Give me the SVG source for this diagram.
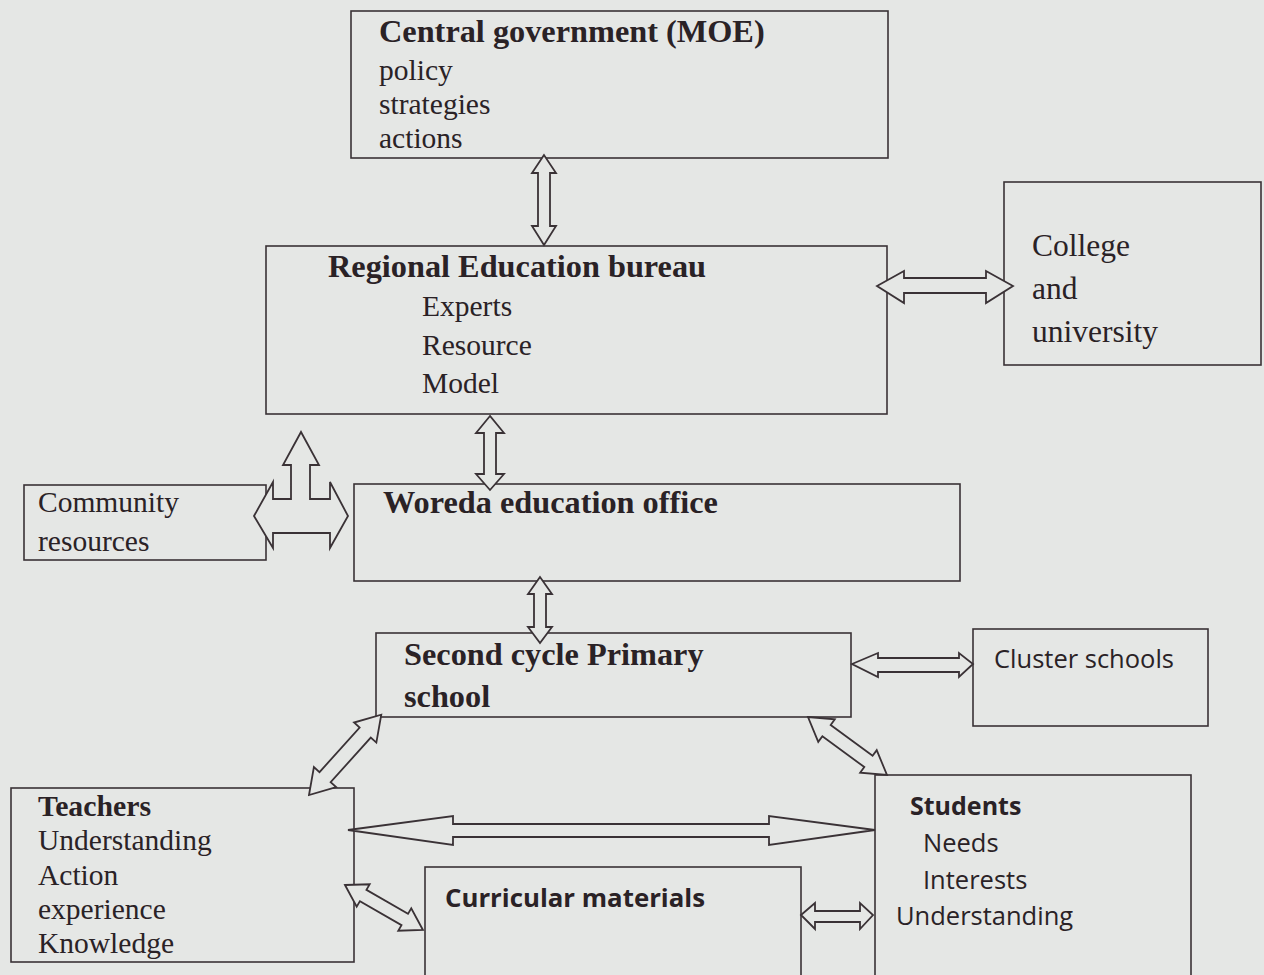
<svg xmlns="http://www.w3.org/2000/svg" width="1264" height="975" viewBox="0 0 1264 975">
<style>
.box{fill:none;stroke:#3a3236;stroke-width:1.6}
.arr{fill:#e5e7e5;stroke:#3a3236;stroke-width:1.8;stroke-linejoin:miter}
.sb{font-family:"Liberation Serif",serif;font-weight:bold;font-size:32.3px;fill:#2a2226}
.sr{font-family:"Liberation Serif",serif;font-size:29.5px;fill:#2a2226}
.ab{font-family:"Open Sans",sans-serif;font-weight:bold;font-size:25px;fill:#2a2226}
.ar{font-family:"Open Sans",sans-serif;font-size:25.5px;fill:#2a2226}
</style>
<rect width="1264" height="975" fill="#e5e7e5"/>

<g id="central">
<rect class="box" x="351" y="11" width="537" height="147"/>
<text class="sb" x="379" y="42">Central government (MOE)</text>
<text class="sr" x="379" y="80">policy</text>
<text class="sr" x="379" y="114">strategies</text>
<text class="sr" x="379" y="148">actions</text>
</g>

<g id="regional">
<rect class="box" x="266" y="246" width="621" height="168"/>
<text class="sb" x="328" y="277">Regional Education bureau</text>
<text class="sr" x="422" y="316">Experts</text>
<text class="sr" x="422" y="355">Resource</text>
<text class="sr" x="422" y="393">Model</text>
</g>

<g id="college">
<rect class="box" x="1004" y="182" width="257" height="183"/>
<text class="sr" x="1032" y="256" style="font-size:31.5px">College</text>
<text class="sr" x="1032" y="299" style="font-size:31.5px">and</text>
<text class="sr" x="1032" y="342" style="font-size:31.5px">university</text>
</g>

<g id="community">
<rect class="box" x="24" y="485" width="242" height="75"/>
<text class="sr" x="38" y="512">Community</text>
<text class="sr" x="38" y="551">resources</text>
</g>

<g id="woreda">
<rect class="box" x="354" y="484" width="606" height="97"/>
<text class="sb" x="383" y="513">Woreda education office</text>
</g>

<g id="secondcycle">
<rect class="box" x="376" y="633" width="475" height="84"/>
<text class="sb" x="404" y="665">Second cycle Primary</text>
<text class="sb" x="404" y="707">school</text>
</g>

<g id="cluster">
<rect class="box" x="973" y="629" width="235" height="97"/>
<text class="ar" x="994" y="668">Cluster schools</text>
</g>

<g id="teachers">
<rect class="box" x="11" y="788" width="343" height="174"/>
<text class="sb" x="38" y="816" style="font-size:29.8px">Teachers</text>
<text class="sr" x="38" y="850">Understanding</text>
<text class="sr" x="38" y="885">Action</text>
<text class="sr" x="38" y="919">experience</text>
<text class="sr" x="38" y="953">Knowledge</text>
</g>

<g id="students">
<rect class="box" x="875" y="775" width="316" height="210"/>
<text class="ab" x="910" y="815">Students</text>
<text class="ar" x="923" y="852">Needs</text>
<text class="ar" x="923" y="889">Interests</text>
<text class="ar" x="896" y="925">Understanding</text>
</g>

<g id="curricular">
<rect class="box" x="425" y="867" width="376" height="118"/>
<text class="ab" x="445" y="907" style="font-size:25.8px">Curricular materials</text>
</g>

<g id="connectors">
<polygon class="arr" points="544,155 532,173 538,173 538,226 532,226 544,245 556,226 550,226 550,173 556,173"/>
<polygon class="arr" points="877,286 904,271 904,278 986,278 986,271 1013,286 986,303 986,293 904,293 904,303"/>
<polygon class="arr" points="490,416 476,433 484,433 484,474 476,474 490,490 504,474 496,474 496,433 504,433"/>
<polygon class="arr" points="254,516 273,482 273,499 291,499 291,465 283,465 301,432 319,465 310,465 310,499 330,499 330,482 348,516 330,548 330,533 273,533 273,548"/>
<polygon class="arr" points="540,577 528,594 534,594 534,627 528,627 540,643 552,627 546,627 546,594 552,594"/>
<polygon class="arr" points="852,664 878,653 878,658 959,658 959,653 973,664 959,677 959,672 878,672 878,677"/>
<polygon class="arr" points="348,830 453,816 453,824 769,824 769,816 875,830 769,845 769,837 453,837 453,845"/>
<polygon class="arr" points="801,915 815,903 815,911 860,911 860,903 873,915 860,929 860,922 815,922 815,929"/>
<polygon class="arr" transform="translate(309,795) rotate(-48)" points="0,0 24,-15 24,-7.5 84,-7.5 84,-15 108,0 84,15 84,7.5 24,7.5 24,15"/>
<polygon class="arr" transform="translate(808,717) rotate(36.3)" points="0,0 23,-14 23,-7 75,-7 75,-14 98,0 75,14 75,7 23,7 23,14"/>
<polygon class="arr" transform="translate(345,885) rotate(30)" points="0,0 21,-13 21,-6.5 69,-6.5 69,-13 90,0 69,13 69,6.5 21,6.5 21,13"/>
</g>
</svg>
